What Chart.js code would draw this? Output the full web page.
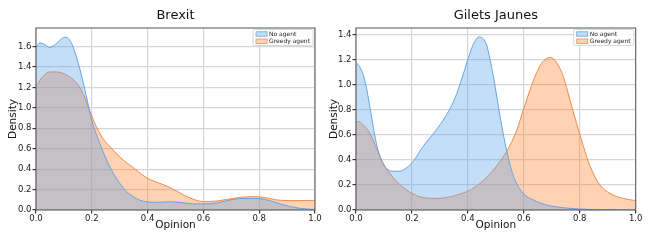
<!DOCTYPE html>
<html>
<head>
<meta charset="utf-8">
<script src="https://cdn.jsdelivr.net/npm/chart.js@4.4.0/dist/chart.umd.min.js"></script>
<style>
  body { margin: 0; background: #fff; }
  .wrap { display: flex; width: 658px; height: 240px; }
  canvas { display: block; }
</style>
</head>
<body>
<div class="wrap">
  <canvas id="brexit" width="329" height="240"></canvas>
  <canvas id="gilets" width="329" height="240"></canvas>
</div>
<script>
const seriesLabels = ["No agent", "Greedy agent"];
const chartTitles = ["Brexit", "Gilets Jaunes"];
const xTicks = [0, 0.2, 0.4, 0.6, 0.8, 1.0];

// Brexit
const brexitNoAgentX = [0, 0.014, 0.03, 0.05, 0.07, 0.09, 0.104, 0.12, 0.135, 0.15, 0.17, 0.188, 0.205, 0.229, 0.253, 0.277, 0.301, 0.325, 0.349, 0.373, 0.397, 0.44, 0.48, 0.53, 0.565, 0.6, 0.65, 0.707, 0.767, 0.8, 0.84, 0.887, 0.947, 1.0];
const brexitNoAgentY = [1.59, 1.635, 1.62, 1.59, 1.62, 1.67, 1.69, 1.665, 1.58, 1.45, 1.24, 1.02, 0.83, 0.65, 0.49, 0.36, 0.26, 0.18, 0.13, 0.095, 0.08, 0.075, 0.08, 0.07, 0.06, 0.06, 0.07, 0.105, 0.114, 0.112, 0.09, 0.05, 0.016, 0.005];
const brexitGreedyX = [0, 0.026, 0.05, 0.074, 0.11, 0.146, 0.17, 0.194, 0.217, 0.24, 0.265, 0.3, 0.35, 0.4, 0.445, 0.48, 0.528, 0.564, 0.6, 0.648, 0.707, 0.767, 0.815, 0.863, 0.91, 1.0];
const brexitGreedyY = [1.21, 1.31, 1.35, 1.35, 1.32, 1.24, 1.13, 0.96, 0.81, 0.70, 0.62, 0.52, 0.41, 0.31, 0.26, 0.22, 0.15, 0.105, 0.082, 0.088, 0.114, 0.13, 0.125, 0.098, 0.092, 0.092];

// Gilets Jaunes
const giletsNoAgentX = [0, 0.012, 0.026, 0.038, 0.056, 0.074, 0.092, 0.11, 0.133, 0.15, 0.169, 0.205, 0.24, 0.276, 0.312, 0.336, 0.36, 0.384, 0.408, 0.425, 0.44, 0.455, 0.467, 0.491, 0.515, 0.539, 0.563, 0.598, 0.634, 0.682, 0.742, 0.8, 0.87, 1.0];
const giletsNoAgentY = [1.18, 1.15, 1.08, 0.97, 0.74, 0.52, 0.39, 0.33, 0.31, 0.31, 0.32, 0.39, 0.51, 0.61, 0.72, 0.81, 0.93, 1.09, 1.26, 1.35, 1.385, 1.37, 1.32, 1.07, 0.75, 0.47, 0.27, 0.133, 0.08, 0.04, 0.018, 0.008, 0.003, 0.0];
const giletsGreedyX = [0, 0.012, 0.026, 0.05, 0.074, 0.098, 0.122, 0.146, 0.181, 0.217, 0.253, 0.288, 0.324, 0.36, 0.408, 0.443, 0.491, 0.539, 0.575, 0.598, 0.622, 0.646, 0.664, 0.68, 0.693, 0.706, 0.72, 0.741, 0.765, 0.789, 0.813, 0.837, 0.872, 0.908, 0.955, 1.0];
const giletsGreedyY = [0.707, 0.705, 0.68, 0.61, 0.49, 0.37, 0.29, 0.226, 0.16, 0.115, 0.096, 0.093, 0.10, 0.12, 0.16, 0.213, 0.32, 0.47, 0.64, 0.80, 0.96, 1.10, 1.175, 1.21, 1.22, 1.21, 1.17, 1.07, 0.88, 0.69, 0.51, 0.35, 0.20, 0.133, 0.093, 0.075];

const FONT = '"DejaVu Sans", sans-serif';
const blueFill = 'rgba(90,160,232,0.35)', blueLine = 'rgba(95,160,232,0.95)';
const orangeFill = 'rgba(255,126,41,0.35)', orangeLine = 'rgba(240,135,70,0.95)';

const toPoints = (xs, ys) => xs.map((x, i) => ({ x: x, y: ys[i] }));

// frame, title and legend inside the plot
const framePlugin = {
    id: 'frame',
    afterDraw(chart, args, opts) {
        const { ctx, chartArea: a } = chart;
        ctx.save();
        ctx.strokeStyle = '#555';
        ctx.lineWidth = 1;
        ctx.strokeRect(a.left, a.top, a.right - a.left, a.bottom - a.top);

        ctx.fillStyle = '#111';
        ctx.font = '13px ' + FONT;
        ctx.textAlign = 'center';
        ctx.textBaseline = 'middle';
        ctx.fillText(opts.title, (a.left + a.right) / 2, 16);

        ctx.font = '6px ' + FONT;
        const ds = chart.data.datasets;
        const textW = Math.max(...ds.map(d => ctx.measureText(d.label).width));
        const w = 3 + 11 + 2 + textW + 3, h = 16;
        const x0 = a.right - 2 - w, y0 = a.top + 1.5;
        ctx.fillStyle = 'rgba(255,255,255,0.85)';
        ctx.strokeStyle = '#d0d0d0';
        ctx.lineWidth = 0.8;
        ctx.beginPath();
        ctx.roundRect(x0, y0, w, h, 1.5);
        ctx.fill();
        ctx.stroke();
        ctx.textAlign = 'left';
        ds.forEach((d, i) => {
            const cy = y0 + 4.5 + i * 7.2;
            ctx.fillStyle = d.backgroundColor;
            ctx.fillRect(x0 + 3, cy - 2.2, 11, 4.4);
            ctx.strokeStyle = d.borderColor;
            ctx.lineWidth = 0.8;
            ctx.strokeRect(x0 + 3, cy - 2.2, 11, 4.4);
            ctx.fillStyle = '#222';
            ctx.fillText(d.label, x0 + 16, cy);
        });
        ctx.restore();
    }
};

function makeChart(id, title, noX, noY, grX, grY, yMax, yWidth, yTitlePad, padRight) {
    return new Chart(document.getElementById(id), {
        type: 'line',
        data: {
            datasets: [
                {
                    label: seriesLabels[0],
                    data: toPoints(noX, noY),
                    borderColor: blueLine,
                    backgroundColor: blueFill,
                    fill: 'origin'
                },
                {
                    label: seriesLabels[1],
                    data: toPoints(grX, grY),
                    borderColor: orangeLine,
                    backgroundColor: orangeFill,
                    fill: 'origin'
                }
            ]
        },
        options: {
            responsive: false,
            animation: false,
            layout: { padding: { top: 28, right: padRight, left: 0, bottom: 0 } },
            elements: {
                line: { borderWidth: 1, cubicInterpolationMode: 'monotone' },
                point: { radius: 0 }
            },
            plugins: {
                legend: { display: false },
                tooltip: { enabled: false },
                frame: { title: title }
            },
            scales: {
                x: {
                    type: 'linear',
                    min: 0, max: 1,
                    afterBuildTicks: s => { s.ticks = xTicks.map(v => ({ value: v })); },
                    afterFit: s => { s.height = 30; },
                    grid: { color: '#d6d6d6', lineWidth: 1.2, tickLength: 3.5, tickColor: '#333' },
                    border: { display: false },
                    ticks: { color: '#1a1a1a', font: { family: FONT, size: 8.5 }, padding: 0, maxRotation: 0, autoSkip: false,
                             callback: v => v.toFixed(1) },
                    title: { display: true, text: 'Opinion', color: '#111', font: { family: FONT, size: 10.5 }, padding: { top: 0, bottom: 8 } }
                },
                y: {
                    min: 0, max: yMax,
                    afterFit: s => { s.width = yWidth; },
                    grid: { color: '#d6d6d6', lineWidth: 1.2, tickLength: 3.5, tickColor: '#333' },
                    border: { display: false },
                    ticks: { stepSize: 0.2, includeBounds: false, color: '#1a1a1a', font: { family: FONT, size: 8.5 }, padding: 1,
                             callback: v => v.toFixed(1) },
                    title: { display: true, text: 'Density', color: '#111', font: { family: FONT, size: 10.5, lineHeight: 1 }, padding: { top: yTitlePad, bottom: 0 } }
                }
            }
        },
        plugins: [framePlugin]
    });
}

makeChart('brexit', chartTitles[0], brexitNoAgentX, brexitNoAgentY, brexitGreedyX, brexitGreedyY, 1.78, 36, 8.5, 14);
makeChart('gilets', chartTitles[1], giletsNoAgentX, giletsNoAgentY, giletsGreedyX, giletsGreedyY, 1.456, 27, 0, 22.3);
</script>
</body>
</html>
